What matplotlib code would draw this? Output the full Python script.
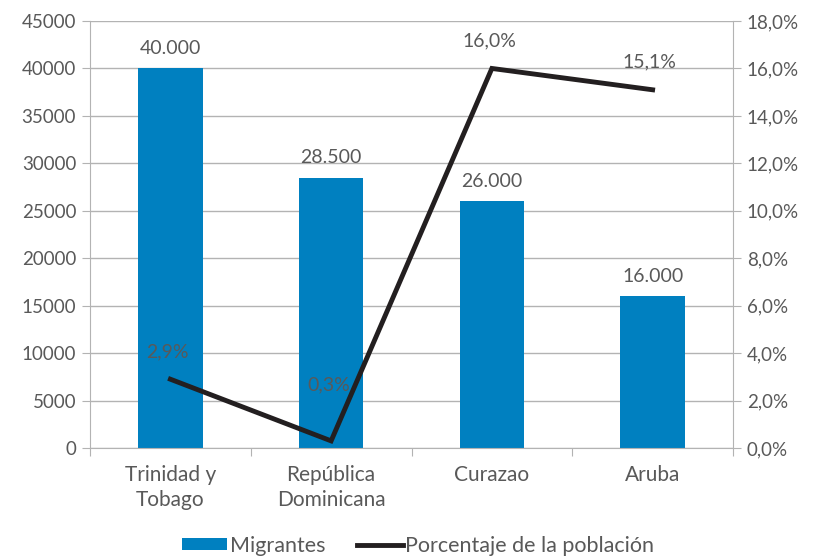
import matplotlib
matplotlib.use("Agg")
import matplotlib.pyplot as plt
from matplotlib.ticker import FuncFormatter, MultipleLocator
from matplotlib.lines import Line2D
from matplotlib.patches import Patch

categories = ["Trinidad y\nTobago", "República\nDominicana", "Curazao", "Aruba"]
migrantes = [40000, 28500, 26000, 16000]
porcentaje = [2.9, 0.3, 16.0, 15.1]
bar_labels = ["40.000", "28.500", "26.000", "16.000"]
pct_labels = ["2,9%", "0,3%", "16,0%", "15,1%"]

plt.rcParams['font.family'] = ['Lato', 'DejaVu Sans']
TXT = '#595959'
GRID = '#b3b3b3'
BLUE = '#0080c0'
LINEC = '#231f20'

fig = plt.figure(figsize=(8.13, 5.58), dpi=100)
ax = fig.add_axes([90/813, 1-448/558, (733-90)/813, (448-21)/558])
ax2 = ax.twinx()

x = list(range(len(categories)))
ax.bar(x, migrantes, width=0.4, color=BLUE, zorder=2)
ax.set_xlim(-0.5, len(categories)-0.5)
ax.set_ylim(0, 45000)
ax.yaxis.set_major_locator(MultipleLocator(5000))
ax.grid(axis='y', color=GRID, linewidth=1, zorder=0)
ax.set_axisbelow(True)

for i, (v, lab) in enumerate(zip(migrantes, bar_labels)):
    ax.annotate(lab, (i, v), xytext=(0, 8), textcoords='offset points',
                ha='center', va='bottom', fontsize=14, color=TXT)

ax2.plot(x, porcentaje, color=LINEC, linewidth=3.5, zorder=3,
         solid_joinstyle='miter')
ax2.set_ylim(0, 18)
ax2.yaxis.set_major_locator(MultipleLocator(2))
ax2.yaxis.set_major_formatter(FuncFormatter(lambda v, p: f"{v:.1f}%".replace('.', ',')))
offsets = [20, 40, 20, 20]
for i, (v, lab, off) in enumerate(zip(porcentaje, pct_labels, offsets)):
    ax2.annotate(lab, (i, v), xytext=(-2, off), textcoords='offset points',
                 ha='center', va='center', fontsize=14, color=TXT)

ax.set_xticks([i - 0.5 for i in range(len(categories)+1)], minor=False)
ax.set_xticklabels([])
ax.set_xticks(x, minor=True)
ax.set_xticklabels(categories, minor=True, fontsize=15, color=TXT, linespacing=1.35)
ax.tick_params(axis='x', which='minor', length=0, pad=12)
ax.tick_params(axis='x', which='major', length=6, color=GRID, direction='out')
ax.tick_params(axis='y', length=6, color=GRID, labelsize=13.5, labelcolor=TXT, pad=4)
ax2.tick_params(axis='y', length=6, color=GRID, labelsize=13.5, labelcolor=TXT, pad=4)

for a in (ax, ax2):
    a.spines['top'].set_visible(False)
    for s in ['left', 'right', 'bottom']:
        a.spines[s].set_color(GRID)
ax2.spines['left'].set_visible(False)
ax.spines['right'].set_visible(False)
ax2.spines['bottom'].set_visible(False)

handles = [Patch(facecolor=BLUE, label='Migrantes'),
           Line2D([0], [0], color=LINEC, linewidth=3.5, label='Porcentaje de la población')]
fig.legend(handles=handles, loc='center', bbox_to_anchor=(418/813, 1-546/558), ncol=2,
           frameon=False, fontsize=15.5, labelcolor=TXT, handlelength=2.1,
           handletextpad=0.1, columnspacing=1.5, handleheight=0.5)

fig.savefig("out.png", dpi=100)
